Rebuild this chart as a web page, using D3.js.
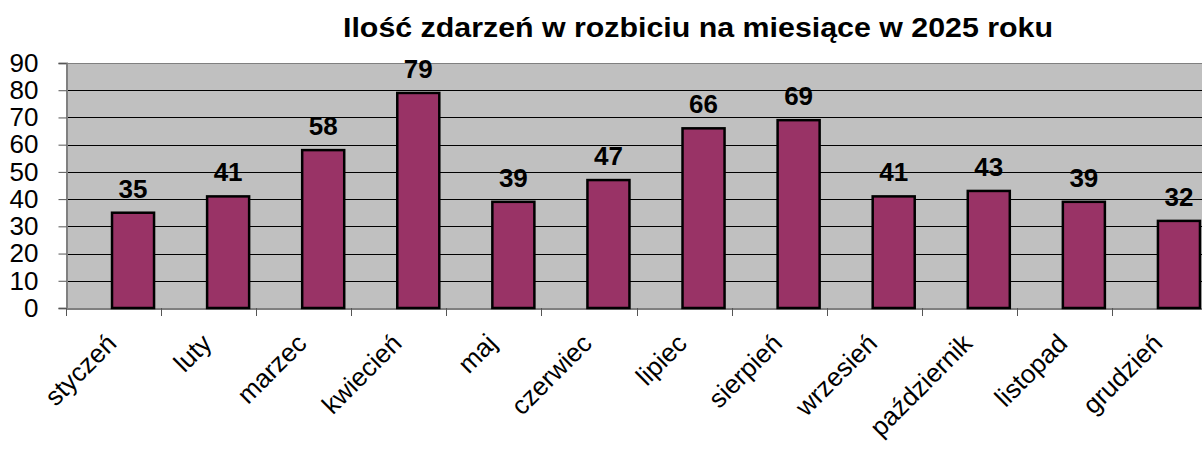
<!doctype html>
<html>
  <head>
    <meta charset="utf-8">
    <script src="https://d3js.org/d3.v7.min.js"></script>
    <style>
      body { margin: 0; background: #fff; }
      text { font-family: Arial, "Liberation Sans", sans-serif; }
    </style>
  </head>
  <body>
    <script>
    // data
    var months = ['styczeń', 'luty', 'marzec', 'kwiecień', 'maj', 'czerwiec',
                  'lipiec', 'sierpień', 'wrzesień', 'październik', 'listopad', 'grudzień'];
    var counts = [35, 41, 58, 79, 39, 47, 66, 69, 41, 43, 39, 32];
    var yTicks = [0, 10, 20, 30, 40, 50, 60, 70, 80, 90];
    var title = 'Ilość zdarzeń w rozbiciu na miesiące w 2025 roku';

    var width = 1202;
    var height = 450;

    var plot = { left: 66, top: 63, bottom: 308, right: 1207 };

    var svg = d3.select('body')
              .append('svg')
              .attr('width', width)
              .attr('height', height);

    var x = d3.scaleBand()
              .domain(months)
              .range([plot.left, plot.right])
              .padding(0);

    var y = d3.scaleLinear()
              .domain([0, 90])
              .range([plot.bottom, plot.top]);

    // bars sit right of the band centre (excel leftover)
    var barOffset = x.bandwidth() * 0.484;
    var barWidth = x.bandwidth() * 0.442;
    function barCenter(m) { return x(m) + barOffset + barWidth / 2; }

    // plot background
    svg.append('rect')
      .attr('x', plot.left)
      .attr('y', plot.top)
      .attr('width', plot.right - plot.left)
      .attr('height', plot.bottom - plot.top)
      .attr('fill', '#c0c0c0');

    // gridlines
    svg.append('g')
      .selectAll('line')
      .data(yTicks.filter(function(t) { return t > 0; }))
      .enter()
      .append('line')
      .attr('x1', plot.left)
      .attr('x2', plot.right)
      .attr('y1', function(d) { return Math.round(y(d)) + 0.5; })
      .attr('y2', function(d) { return Math.round(y(d)) + 0.5; })
      .attr('stroke', function(d) { return d === 90 ? '#808080' : '#000'; })
      .attr('stroke-width', 1);

    // y axis
    var yAxis = d3.axisLeft(y).tickValues(yTicks).tickSize(8).tickPadding(20);
    var gy = svg.append('g')
      .attr('transform', 'translate(' + (plot.left + 0.5) + ',0)')
      .call(yAxis);
    gy.select('.domain').attr('stroke', '#808080').attr('stroke-width', 2);
    gy.selectAll('.tick line').attr('stroke', '#555');
    gy.selectAll('.tick text')
      .attr('fill', '#000')
      .attr('font-family', 'Arial, "Liberation Sans", sans-serif')
      .attr('font-size', '26px');

    // x axis
    var xAxis = d3.axisBottom(x).tickSize(0).tickFormat('');
    var gx = svg.append('g')
      .attr('transform', 'translate(0,' + (plot.bottom + 0.5) + ')')
      .call(xAxis);
    gx.select('.domain').attr('stroke', '#808080').attr('stroke-width', 2);

    // tick marks between categories
    svg.append('g')
      .selectAll('line')
      .data(months)
      .enter()
      .append('line')
      .attr('x1', function(d) { return Math.round(x(d)) + 0.5; })
      .attr('x2', function(d) { return Math.round(x(d)) + 0.5; })
      .attr('y1', plot.bottom)
      .attr('y2', plot.bottom + 8)
      .attr('stroke', '#555');

    // bars
    svg.append('g')
      .selectAll('rect')
      .data(months)
      .enter()
      .append('rect')
      .attr('x', function(d) { return x(d) + barOffset; })
      .attr('y', function(d, i) { return y(counts[i]); })
      .attr('width', barWidth)
      .attr('height', function(d, i) { return y(0) - y(counts[i]); })
      .attr('fill', '#993366')
      .attr('stroke', '#000')
      .attr('stroke-width', 2.5);

    // value labels
    svg.append('g')
      .selectAll('text')
      .data(months)
      .enter()
      .append('text')
      .attr('x', barCenter)
      .attr('y', function(d, i) { return y(counts[i]) - 15; })
      .attr('text-anchor', 'middle')
      .attr('font-size', '26px')
      .attr('font-weight', 'bold')
      .text(function(d, i) { return counts[i]; });

    // category labels
    svg.append('g')
      .selectAll('text')
      .data(months)
      .enter()
      .append('text')
      .attr('transform', function(d) {
        return 'translate(' + (barCenter(d) - 15) + ',345) rotate(-45)';
      })
      .attr('text-anchor', 'end')
      .attr('font-size', '26px')
      .text(function(d) { return d; });

    // title
    svg.append('text')
      .attr('x', 343)
      .attr('y', 37)
      .attr('font-size', '28px')
      .attr('font-weight', 'bold')
      .attr('textLength', 710)
      .attr('lengthAdjust', 'spacingAndGlyphs')
      .text(title);
    </script>
  </body>
</html>
